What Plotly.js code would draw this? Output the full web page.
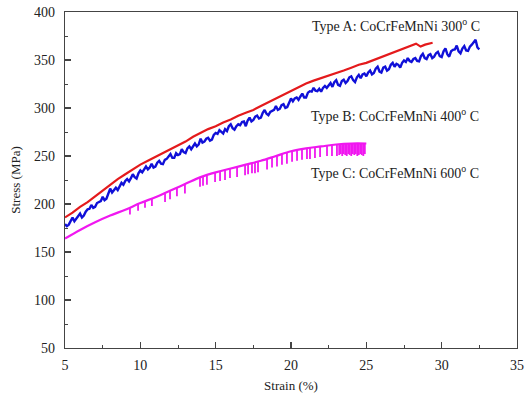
<!DOCTYPE html>
<html>
<head>
<meta charset="utf-8">
<script src="https://cdn.plot.ly/plotly-3.0.1.min.js"></script>
<style>html,body{margin:0;padding:0;background:#fff;}#chart{width:525px;height:397px;}</style>
</head>
<body>
<div id="chart"></div>
<script>
// Type A (300 C) - strain (%) and stress (MPa)
var strainA = [5,5.5,6,6.5,7,7.5,8,8.5,9,9.5,10,10.5,11,11.5,12,12.5,13,13.5,14,14.5,15,15.5,16,16.5,17,17.5,18,18.5,19,19.5,20,20.5,21,21.5,22,22.5,23,23.5,24,24.5,25,25.5,26,26.5,27,27.5,28,28.3,28.6,28.9,29.4];
var stressA = [186,191,197,202,208,214,220,226,231,236,241,245,249,253,257,261,265,270,274,278,281,285,288,292,295,298,302,306,310,314,318,322,325.5,328.5,331,333.5,336,339,342,345,347,350,353,356,359,362,365,367,364,366,368];

// Type B (400 C): sampled every 0.125 % strain starting at 5 %
var strainBStart = 5, strainBStep = 0.125;
var stressB = [179,177,178.5,183,186,182,184.5,188,190,186,188,192,194.5,195,199,196,197,201,202,203,207.5,204,205.5,211,216,212,214,217,214.5,219,222,220,224,226,223.5,227,231,228,226.5,232,235,233,236,239,236,238,242,238,239,243,245,242,241.5,246,247,249,252,248,248,253,251,252,257,254,253,258,260,257,260,263,260,262,268,264,265,268,269,266,267,272,274,273,277,275,273.5,278,276,281,283,279,277.5,281,283,282,285.5,286,281,287,290,286,287.5,291,292,289,290,295,298,294,292.5,296,297,298,302,298,299,303,304,300,301,306,310,307,310,311,308.5,312,315,311,311,316,317.5,317,321,318,317.5,320,317,321,323,321,323.5,326,322,327,329,324,323,328,329.5,326,328,332,333,329,327,332,334.5,331,335,336,333,337,339,335,336.5,341,343,338,337,342,343,339,340.5,345,347,343,346,345,342,347,349.5,348,352,349,348,351,352,349,348.5,354,356.5,352,351,355,356,352,353.5,357,358.5,354,353,359,362,356,353.5,359,360.5,361,365,359,357,362,364.5,360,359.5,364,366,368,371,363,361];

// Type C (600 C) - smooth part
var strainC = [5,6,7,8,9,10,11,12,13,14,15,16,17,18,19,20,21,22,23,24,25];
var stressC = [164,173,181,188,194,201,207,214,221,228,233,237,241,245,250,255,258,260,262,263,263];

// Type C serrations (stress drops): strain, top, bottom
var serrStrain = [9.31,9.85,10.31,10.77,11.64,11.97,12.43,12.96,13.96,14.16,14.42,14.96,15.29,15.62,15.95,16.42,16.95,17.15,17.41,17.61,17.81,18.41,18.74,19.07,19.4,19.73,20.07,20.4,20.73,21.06,21.26,21.59,21.93,22.39,22.72,23.05,23.2,23.3,23.4,23.5,23.6,23.7,23.8,23.9,24.0,24.1,24.2,24.3,24.4,24.5,24.6,24.7,24.8,24.9];
var serrTop = [196,200,203,206,211,214,217,221,228,229,230,233,234,235.5,237,239,241,241.5,242.5,243.5,244,247,249,250.5,252,253.5,255,256,257,258,258.5,259,260,261,261.5,262,262,262,262.5,262.5,262.5,263,263,263,263,263,263,263,263,263,263,263,263,263];
var serrBottom = [189,193,196,198,202,205,208,211,218,219,220,223,224,225,227,228,230,231,232,232,233,236,238,239,241,242,244,245,246,247,247,248,249,250,250,250,251,252,250,252,251,250,252,251,250,252,251,252,250,251,252,251,250,252];

// Labels
var labelA = 'Type A: CoCrFeMnNi 300<sup>o</sup> C';
var labelB = 'Type B: CoCrFeMnNi 400<sup>o</sup> C';
var labelC = 'Type C: CoCrFeMnNi 600<sup>o</sup> C';

var strainB = [];
for (var k = 0; k < stressB.length; k++) strainB.push(strainBStart + strainBStep * k);

var sx = [], sy = [];
for (var i = 0; i < serrStrain.length; i++) {
  sx.push(serrStrain[i], serrStrain[i], null);
  sy.push(serrTop[i], serrBottom[i], null);
}

var traces = [
  {x: strainA, y: stressA, mode: 'lines', line: {color: '#e41a1c', width: 2.2}, hoverinfo: 'none'},
  {x: strainB, y: stressB, mode: 'lines', line: {color: '#1010d8', width: 2.4}, hoverinfo: 'none'},
  {x: strainC, y: stressC, mode: 'lines', line: {color: '#f018f0', width: 2.2, shape: 'spline'}, hoverinfo: 'none'},
  {x: sx, y: sy, mode: 'lines', line: {color: '#f018f0', width: 1.8}, connectgaps: false, hoverinfo: 'none'}
];

var fontFam = 'Liberation Serif';
var axisCommon = {
  showgrid: false, zeroline: false, showline: true, mirror: true,
  linecolor: '#444', linewidth: 1.3,
  ticks: 'inside', ticklen: 6, tickwidth: 1.2, tickcolor: '#444',
  tickfont: {family: fontFam, size: 14, color: '#222'}
};

var layout = {
  width: 525, height: 397,
  margin: {l: 65, r: 8, t: 12, b: 49},
  paper_bgcolor: '#fff', plot_bgcolor: '#fff',
  showlegend: false,
  font: {family: fontFam, color: '#222'},
  xaxis: Object.assign({}, axisCommon, {
    range: [5, 35], tickmode: 'linear', tick0: 5, dtick: 5,
    minor: {ticks: 'inside', dtick: 2.5, ticklen: 3, tickcolor: '#444', tickwidth: 1},
    ticklabelstandoff: 4,
    title: {text: 'Strain (%)', font: {family: fontFam, size: 13, color: '#222'}, standoff: 8}
  }),
  yaxis: Object.assign({}, axisCommon, {
    range: [50, 400], tickmode: 'linear', tick0: 50, dtick: 50,
    minor: {ticks: 'inside', dtick: 25, ticklen: 3, tickcolor: '#444', tickwidth: 1},
    ticklabelstandoff: 6,
    title: {text: 'Stress (MPa)', font: {family: fontFam, size: 13, color: '#222'}, standoff: 10}
  }),
  annotations: [
    {x: 32.7, y: 386.5, xref: 'x', yref: 'y', text: labelA, showarrow: false, xanchor: 'right', yanchor: 'middle', font: {family: fontFam, size: 14, color: '#222'}},
    {x: 32.6, y: 292.5, xref: 'x', yref: 'y', text: labelB, showarrow: false, xanchor: 'right', yanchor: 'middle', font: {family: fontFam, size: 14, color: '#222'}},
    {x: 32.6, y: 233, xref: 'x', yref: 'y', text: labelC, showarrow: false, xanchor: 'right', yanchor: 'middle', font: {family: fontFam, size: 14, color: '#222'}}
  ]
};

Plotly.newPlot('chart', traces, layout, {staticPlot: true, displayModeBar: false});
</script>
</body>
</html>
